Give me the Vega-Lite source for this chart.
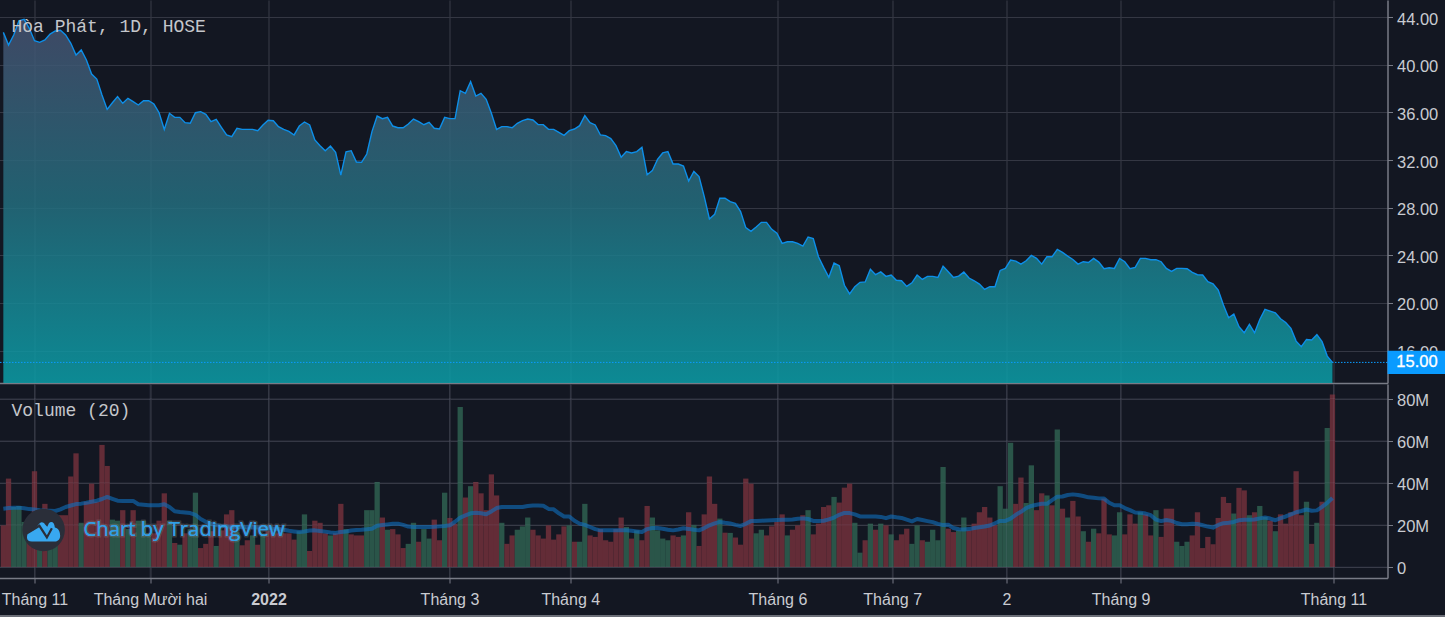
{"$schema":"https://vega.github.io/schema/vega-lite/v6.json","background":"#131722","padding":{"left":-1.5,"top":0,"right":0,"bottom":0},"autosize":{"type":"pad"},"spacing":0,
"config":{"view":{"stroke":null},"axis":{"labelFont":"Liberation Sans","labelFontSize":16.5,"labelColor":"#c9cbd1","gridColor":"#343743","gridWidth":1.2,"domainColor":"#787b86","domainWidth":1.5,"tickColor":"#787b86","tickSize":5,"title":null}},
"datasets":{"one":[{}],"levels":[{"level":0},{"level":20},{"level":40},{"level":60},{"level":80}],"months":[{"at":6},{"at":28.25},{"at":51.07},{"at":85.93},{"at":109.2},{"at":149.1},{"at":171.2},{"at":193.2},{"at":215.2},{"at":256.2}],"hpg":[
{"i":0,"close":42.73,"volume":19.8,"side":"r","ma":27.7},{"i":1,"close":41.67,"volume":42,"side":"r","ma":28},{"i":2,"close":42.51,"volume":28.5,"side":"g","ma":28.2},{"i":3,"close":43.71,"volume":29,"side":"g","ma":28.2},{"i":4,"close":43.83,"volume":21.4,"side":"g","ma":27.9},{"i":5,"close":43.07,"volume":22,"side":"r","ma":27.5},{"i":6,"close":42.03,"volume":45.5,"side":"r","ma":27.3},{"i":7,"close":41.89,"volume":14,"side":"g","ma":27},{"i":8,"close":42.09,"volume":30,"side":"r","ma":26.8},{"i":9,"close":42.59,"volume":16,"side":"g","ma":26.7},
{"i":10,"close":42.85,"volume":17,"side":"g","ma":26.6},{"i":11,"close":42.9,"volume":24.6,"side":"r","ma":27.4},{"i":12,"close":42.51,"volume":24.6,"side":"r","ma":28.5},{"i":13,"close":41.81,"volume":43,"side":"r","ma":29.2},{"i":14,"close":40.83,"volume":54,"side":"r","ma":29.9},{"i":15,"close":41.25,"volume":21,"side":"g","ma":30.1},{"i":16,"close":40.41,"volume":31,"side":"r","ma":30.5},{"i":17,"close":39.23,"volume":39.6,"side":"r","ma":31},{"i":18,"close":38.81,"volume":31,"side":"r","ma":31.5},{"i":19,"close":37.47,"volume":58,"side":"r","ma":32.3},
{"i":20,"close":36.26,"volume":48,"side":"r","ma":33.3},{"i":21,"close":36.82,"volume":22.5,"side":"g","ma":32.4},{"i":22,"close":37.33,"volume":22,"side":"g","ma":31.5},{"i":23,"close":36.77,"volume":27,"side":"r","ma":31.4},{"i":24,"close":37.19,"volume":18,"side":"g","ma":31.4},{"i":25,"close":36.91,"volume":27,"side":"r","ma":31.4},{"i":26,"close":36.63,"volume":22,"side":"g","ma":29.8},{"i":27,"close":36.99,"volume":22,"side":"g","ma":29.6},{"i":28,"close":36.99,"volume":16,"side":"g","ma":29.3},{"i":29,"close":36.71,"volume":16,"side":"r","ma":29.3},
{"i":30,"close":35.98,"volume":22,"side":"r","ma":29.3},{"i":31,"close":34.58,"volume":35,"side":"r","ma":29.8},{"i":32,"close":35.93,"volume":22,"side":"g","ma":28.5},{"i":33,"close":35.59,"volume":11.4,"side":"r","ma":26.5},{"i":34,"close":35.59,"volume":10.6,"side":"g","ma":26.1},{"i":35,"close":35.14,"volume":16,"side":"r","ma":25.9},{"i":36,"close":35.09,"volume":18,"side":"g","ma":25.6},{"i":37,"close":35.98,"volume":35.3,"side":"g","ma":24.8},{"i":38,"close":36.07,"volume":9,"side":"r","ma":22.8},{"i":39,"close":35.84,"volume":11,"side":"r","ma":21.5},
{"i":40,"close":35.23,"volume":17,"side":"r","ma":20.4},{"i":41,"close":35.42,"volume":10,"side":"g","ma":19.9},{"i":42,"close":34.75,"volume":17.4,"side":"r","ma":19.5},{"i":43,"close":34.11,"volume":25,"side":"r","ma":19.3},{"i":44,"close":33.97,"volume":27,"side":"r","ma":19},{"i":45,"close":34.67,"volume":16.6,"side":"g","ma":19},{"i":46,"close":34.58,"volume":10.3,"side":"r","ma":18.9},{"i":47,"close":34.58,"volume":12.7,"side":"r","ma":18.9},{"i":48,"close":34.58,"volume":15,"side":"g","ma":18.8},{"i":49,"close":34.47,"volume":10.6,"side":"r","ma":18.8},
{"i":50,"close":34.95,"volume":15,"side":"g","ma":18.7},{"i":51,"close":35.34,"volume":17,"side":"r","ma":18.7},{"i":52,"close":35.31,"volume":16,"side":"r","ma":18.3},{"i":53,"close":34.81,"volume":16,"side":"r","ma":18},{"i":54,"close":34.58,"volume":16,"side":"r","ma":17.7},{"i":55,"close":34.41,"volume":16,"side":"r","ma":17.2},{"i":56,"close":34.11,"volume":13,"side":"r","ma":16.9},{"i":57,"close":34.86,"volume":17,"side":"g","ma":16.6},{"i":58,"close":35.2,"volume":25,"side":"g","ma":16.9},{"i":59,"close":34.95,"volume":7.6,"side":"r","ma":17.3},
{"i":60,"close":33.69,"volume":22,"side":"r","ma":17.4},{"i":61,"close":33.21,"volume":21,"side":"r","ma":17.1},{"i":62,"close":32.79,"volume":16,"side":"r","ma":16.8},{"i":63,"close":33.18,"volume":15,"side":"g","ma":16.4},{"i":64,"close":32.65,"volume":16,"side":"r","ma":16.2},{"i":65,"close":30.74,"volume":30,"side":"r","ma":16.6},{"i":66,"close":32.7,"volume":18,"side":"g","ma":16.9},{"i":67,"close":32.79,"volume":15.5,"side":"r","ma":17.3},{"i":68,"close":31.84,"volume":15,"side":"r","ma":17.6},{"i":69,"close":31.81,"volume":15,"side":"r","ma":17.7},
{"i":70,"close":32.51,"volume":27,"side":"g","ma":17.9},{"i":71,"close":34.39,"volume":27,"side":"g","ma":18.2},{"i":72,"close":35.7,"volume":40.4,"side":"g","ma":19.6},{"i":73,"close":35.48,"volume":23.5,"side":"r","ma":19.9},{"i":74,"close":35.59,"volume":17.7,"side":"g","ma":20.2},{"i":75,"close":34.86,"volume":18,"side":"r","ma":20.5},{"i":76,"close":34.72,"volume":15.5,"side":"r","ma":20.6},{"i":77,"close":34.72,"volume":9,"side":"r","ma":20},{"i":78,"close":35.03,"volume":11,"side":"g","ma":19.2},{"i":79,"close":35.45,"volume":21,"side":"g","ma":19},
{"i":80,"close":35.23,"volume":12,"side":"r","ma":19},{"i":81,"close":34.97,"volume":18,"side":"g","ma":19},{"i":82,"close":35.17,"volume":13.5,"side":"g","ma":19},{"i":83,"close":34.67,"volume":22.5,"side":"r","ma":19.1},{"i":84,"close":34.61,"volume":12.7,"side":"r","ma":19.3},{"i":85,"close":35.59,"volume":35.3,"side":"g","ma":19.5},{"i":86,"close":35.48,"volume":23.3,"side":"r","ma":19.8},{"i":87,"close":35.48,"volume":20.6,"side":"r","ma":21.5},{"i":88,"close":37.83,"volume":76,"side":"g","ma":23.5},{"i":89,"close":37.61,"volume":33,"side":"r","ma":24.5},
{"i":90,"close":38.59,"volume":38.4,"side":"g","ma":25.5},{"i":91,"close":37.38,"volume":40.4,"side":"r","ma":25.8},{"i":92,"close":37.61,"volume":35,"side":"r","ma":25.5},{"i":93,"close":37.11,"volume":27,"side":"r","ma":25.1},{"i":94,"close":35.93,"volume":44,"side":"r","ma":26.4},{"i":95,"close":34.58,"volume":34,"side":"r","ma":28},{"i":96,"close":34.81,"volume":21,"side":"g","ma":28.5},{"i":97,"close":34.81,"volume":11,"side":"r","ma":28.5},{"i":98,"close":34.72,"volume":15,"side":"r","ma":28.5},{"i":99,"close":35.09,"volume":17.7,"side":"g","ma":28.5},
{"i":100,"close":35.31,"volume":19.3,"side":"g","ma":28.5},{"i":101,"close":35.45,"volume":23.5,"side":"g","ma":29},{"i":102,"close":35.37,"volume":17.7,"side":"r","ma":29.2},{"i":103,"close":34.98,"volume":15,"side":"r","ma":29.2},{"i":104,"close":34.98,"volume":13.5,"side":"r","ma":29.1},{"i":105,"close":34.58,"volume":19.8,"side":"r","ma":27.6},{"i":106,"close":34.58,"volume":13,"side":"r","ma":27.4},{"i":107,"close":34.33,"volume":15.5,"side":"r","ma":25.5},{"i":108,"close":34.08,"volume":19.3,"side":"r","ma":24},{"i":109,"close":34.47,"volume":19.8,"side":"g","ma":24},
{"i":110,"close":34.61,"volume":12,"side":"r","ma":22},{"i":111,"close":34.89,"volume":12,"side":"g","ma":20.6},{"i":112,"close":35.73,"volume":30,"side":"g","ma":20},{"i":113,"close":35.14,"volume":15,"side":"r","ma":19},{"i":114,"close":34.95,"volume":14.3,"side":"r","ma":18},{"i":115,"close":34.11,"volume":18,"side":"r","ma":17.4},{"i":116,"close":34.05,"volume":12.7,"side":"r","ma":17.4},{"i":117,"close":33.8,"volume":12,"side":"r","ma":17.4},{"i":118,"close":33.21,"volume":18,"side":"r","ma":17.4},{"i":119,"close":32.23,"volume":23.5,"side":"r","ma":17.4},
{"i":120,"close":32.71,"volume":19,"side":"g","ma":17.4},{"i":121,"close":32.6,"volume":13.5,"side":"r","ma":17.2},{"i":122,"close":32.71,"volume":17.4,"side":"g","ma":16.9},{"i":123,"close":33.07,"volume":12.7,"side":"r","ma":16.6},{"i":124,"close":30.77,"volume":29,"side":"r","ma":18},{"i":125,"close":31.11,"volume":23.5,"side":"g","ma":18.5},{"i":126,"close":32.06,"volume":17.4,"side":"g","ma":18.5},{"i":127,"close":32.6,"volume":13.5,"side":"g","ma":18.2},{"i":128,"close":32.71,"volume":12.7,"side":"g","ma":17.7},{"i":129,"close":31.67,"volume":15,"side":"r","ma":17.4},
{"i":130,"close":31.67,"volume":14.3,"side":"r","ma":17.8},{"i":131,"close":31.5,"volume":15,"side":"g","ma":18.4},{"i":132,"close":30.24,"volume":26,"side":"r","ma":18.1},{"i":133,"close":31.05,"volume":20,"side":"g","ma":17.7},{"i":134,"close":30.61,"volume":10,"side":"r","ma":17.4},{"i":135,"close":28.93,"volume":25,"side":"r","ma":18.5},{"i":136,"close":27.05,"volume":43,"side":"r","ma":19.8},{"i":137,"close":27.44,"volume":30,"side":"r","ma":20.7},{"i":138,"close":28.79,"volume":23,"side":"g","ma":21.4},{"i":139,"close":28.79,"volume":16.3,"side":"r","ma":21},
{"i":140,"close":28.51,"volume":16.2,"side":"g","ma":20.7},{"i":141,"close":28.37,"volume":14,"side":"r","ma":20},{"i":142,"close":27.67,"volume":10.6,"side":"r","ma":19.5},{"i":143,"close":26.32,"volume":42,"side":"r","ma":20.5},{"i":144,"close":26.01,"volume":39.6,"side":"r","ma":21.8},{"i":145,"close":26.38,"volume":16,"side":"g","ma":21.9},{"i":146,"close":26.77,"volume":17.7,"side":"g","ma":22},{"i":147,"close":26.77,"volume":15,"side":"r","ma":22.1},{"i":148,"close":26.18,"volume":19.3,"side":"r","ma":22.2},{"i":149,"close":25.85,"volume":21.4,"side":"r","ma":22.3},
{"i":150,"close":25,"volume":25,"side":"r","ma":22.4},{"i":151,"close":25.14,"volume":15,"side":"g","ma":22.5},{"i":152,"close":25.14,"volume":17.7,"side":"r","ma":22.6},{"i":153,"close":25,"volume":19.8,"side":"r","ma":22.9},{"i":154,"close":24.78,"volume":24.6,"side":"r","ma":23.1},{"i":155,"close":25.54,"volume":27,"side":"g","ma":22.8},{"i":156,"close":25.4,"volume":15.5,"side":"r","ma":21.9},{"i":157,"close":23.88,"volume":20.6,"side":"r","ma":21.9},{"i":158,"close":22.99,"volume":28.5,"side":"r","ma":22},{"i":159,"close":22.15,"volume":29.3,"side":"r","ma":22.6},
{"i":160,"close":23.35,"volume":33.3,"side":"g","ma":23.5},{"i":161,"close":23.13,"volume":30.6,"side":"r","ma":24.8},{"i":162,"close":21.48,"volume":37.7,"side":"r","ma":25.7},{"i":163,"close":20.75,"volume":39.6,"side":"r","ma":25.6},{"i":164,"close":21.36,"volume":21,"side":"g","ma":25},{"i":165,"close":21.73,"volume":6.8,"side":"g","ma":24},{"i":166,"close":21.76,"volume":12.7,"side":"r","ma":24},{"i":167,"close":22.82,"volume":20.6,"side":"g","ma":24},{"i":168,"close":22.37,"volume":17.7,"side":"r","ma":24},{"i":169,"close":22.6,"volume":20.6,"side":"g","ma":23.8},
{"i":170,"close":22.23,"volume":19.8,"side":"r","ma":23.2},{"i":171,"close":22.34,"volume":15.5,"side":"g","ma":24},{"i":172,"close":21.9,"volume":12.7,"side":"r","ma":23.6},{"i":173,"close":21.86,"volume":15.5,"side":"r","ma":23.3},{"i":174,"close":21.39,"volume":18.2,"side":"r","ma":22.5},{"i":175,"close":21.69,"volume":11,"side":"g","ma":21.7},{"i":176,"close":22.34,"volume":19.8,"side":"g","ma":22.8},{"i":177,"close":21.97,"volume":12.7,"side":"r","ma":22.3},{"i":178,"close":22.23,"volume":12,"side":"g","ma":21.8},{"i":179,"close":22.23,"volume":17.7,"side":"g","ma":21.3},
{"i":180,"close":22.14,"volume":12.7,"side":"g","ma":20.5},{"i":181,"close":23.09,"volume":47.5,"side":"g","ma":19.9},{"i":182,"close":22.62,"volume":18.2,"side":"r","ma":20.1},{"i":183,"close":22.14,"volume":16.6,"side":"r","ma":18.5},{"i":184,"close":22.25,"volume":17.4,"side":"g","ma":17.9},{"i":185,"close":22.59,"volume":23.5,"side":"g","ma":17.8},{"i":186,"close":22.09,"volume":17.4,"side":"r","ma":18},{"i":187,"close":21.86,"volume":20.6,"side":"r","ma":18.5},{"i":188,"close":21.58,"volume":26,"side":"r","ma":18.9},{"i":189,"close":21.13,"volume":28.5,"side":"r","ma":19.2},
{"i":190,"close":21.36,"volume":23.5,"side":"r","ma":19.7},{"i":191,"close":21.36,"volume":20,"side":"r","ma":20.8},{"i":192,"close":22.73,"volume":38.4,"side":"g","ma":21.9},{"i":193,"close":22.9,"volume":27.7,"side":"g","ma":21.9},{"i":194,"close":23.6,"volume":59,"side":"g","ma":23},{"i":195,"close":23.51,"volume":30,"side":"r","ma":24.8},{"i":196,"close":23.26,"volume":42.5,"side":"r","ma":26.2},{"i":197,"close":23.54,"volume":30.4,"side":"g","ma":28},{"i":198,"close":23.99,"volume":48.3,"side":"g","ma":29},{"i":199,"close":23.74,"volume":27,"side":"r","ma":29.6},
{"i":200,"close":23.26,"volume":35,"side":"r","ma":30},{"i":201,"close":23.88,"volume":34,"side":"g","ma":30},{"i":202,"close":23.88,"volume":29.3,"side":"r","ma":31.8},{"i":203,"close":24.49,"volume":65.3,"side":"g","ma":33.4},{"i":204,"close":24.24,"volume":27.7,"side":"r","ma":33.5},{"i":205,"close":23.93,"volume":23.5,"side":"g","ma":34.2},{"i":206,"close":23.65,"volume":31.4,"side":"r","ma":34.5},{"i":207,"close":23.26,"volume":24,"side":"r","ma":34.2},{"i":208,"close":23.46,"volume":17,"side":"g","ma":33.7},{"i":209,"close":23.4,"volume":12,"side":"r","ma":33.1},
{"i":210,"close":23.74,"volume":18.2,"side":"g","ma":32.9},{"i":211,"close":23.43,"volume":16,"side":"r","ma":32.6},{"i":212,"close":22.87,"volume":32.5,"side":"r","ma":32.5},{"i":213,"close":22.95,"volume":15.5,"side":"r","ma":30.5},{"i":214,"close":22.9,"volume":15,"side":"g","ma":29.3},{"i":215,"close":23.74,"volume":26,"side":"g","ma":29.3},{"i":216,"close":23.46,"volume":15.5,"side":"r","ma":28},{"i":217,"close":22.87,"volume":25,"side":"r","ma":27},{"i":218,"close":22.98,"volume":20.6,"side":"r","ma":25.9},{"i":219,"close":23.74,"volume":26,"side":"g","ma":25.8},
{"i":220,"close":23.74,"volume":25,"side":"r","ma":25.4},{"i":221,"close":23.63,"volume":15,"side":"r","ma":24.6},{"i":222,"close":23.63,"volume":27,"side":"g","ma":22.5},{"i":223,"close":23.46,"volume":14.3,"side":"r","ma":21.8},{"i":224,"close":22.9,"volume":27.7,"side":"r","ma":22.3},{"i":225,"close":22.65,"volume":27.7,"side":"r","ma":21.9},{"i":226,"close":22.9,"volume":12,"side":"g","ma":20.9},{"i":227,"close":22.9,"volume":10,"side":"g","ma":20.3},{"i":228,"close":22.87,"volume":12,"side":"g","ma":20.3},{"i":229,"close":22.56,"volume":15,"side":"r","ma":20.5},
{"i":230,"close":22.37,"volume":26,"side":"r","ma":20.4},{"i":231,"close":22.34,"volume":9,"side":"r","ma":19.8},{"i":232,"close":21.78,"volume":14.3,"side":"r","ma":19.2},{"i":233,"close":21.61,"volume":10.8,"side":"r","ma":18.7},{"i":234,"close":21.08,"volume":23.3,"side":"r","ma":20},{"i":235,"close":19.82,"volume":33.3,"side":"r","ma":20.8},{"i":236,"close":18.75,"volume":30.4,"side":"r","ma":21},{"i":237,"close":19.06,"volume":25.4,"side":"g","ma":21.4},{"i":238,"close":18,"volume":37.6,"side":"r","ma":22.2},{"i":239,"close":17.49,"volume":36.4,"side":"r","ma":22.4},
{"i":240,"close":18.19,"volume":24.6,"side":"g","ma":22.4},{"i":241,"close":17.49,"volume":26,"side":"r","ma":22.6},{"i":242,"close":18.61,"volume":29,"side":"g","ma":23.1},{"i":243,"close":19.45,"volume":23.8,"side":"g","ma":23.5},{"i":244,"close":19.31,"volume":22,"side":"r","ma":23},{"i":245,"close":19.17,"volume":17,"side":"g","ma":22.2},{"i":246,"close":18.67,"volume":25,"side":"r","ma":23.2},{"i":247,"close":18.36,"volume":20.6,"side":"r","ma":24},{"i":248,"close":17.86,"volume":26,"side":"r","ma":25},{"i":249,"close":16.79,"volume":45.5,"side":"r","ma":26},
{"i":250,"close":16.32,"volume":24.6,"side":"r","ma":26.6},{"i":251,"close":16.93,"volume":31,"side":"g","ma":27.3},{"i":252,"close":16.88,"volume":11,"side":"r","ma":26.7},{"i":253,"close":17.33,"volume":21,"side":"g","ma":26.9},{"i":254,"close":16.74,"volume":31,"side":"r","ma":28.6},{"i":255,"close":15.53,"volume":66,"side":"g","ma":30.5},{"i":256,"close":15,"volume":82,"side":"r","ma":32.8}
]},
"vconcat":[
{"width":1388,"height":383,
"layer":[
{"data":{"name":"hpg"},"mark":{"type":"area","interpolate":"linear","color":{"gradient":"linear","x1":0,"y1":0,"x2":0,"y2":1,"stops":[{"offset":0,"color":"rgba(70,81,112,0.85)"},{"offset":0.5,"color":"rgba(36,109,126,0.85)"},{"offset":1,"color":"rgba(11,158,168,0.85)"}]}},
"encoding":{
"x":{"field":"i","type":"quantitative","scale":{"domain":[-0.74,266.6],"nice":false,"zero":false,"padding":0},"axis":{"values":[6,28.25,51.07,85.93,109.2,149.1,171.2,193.2,215.2,256.2],"labels":false,"ticks":false,"domain":true,"grid":true,"maxExtent":0,"minExtent":0}},
"y":{"field":"close","type":"quantitative","scale":{"domain":[13.27,45.45],"nice":false,"zero":false},"axis":{"orient":"right","values":[16,20,24,28,32,36,40,44],"format":".2f","minExtent":57,"maxExtent":57,"labelPadding":4,"labelOffset":2,"grid":true}},
"y2":{"datum":13.27}}},
{"data":{"name":"hpg"},"mark":{"type":"line","color":"#0d8fe9","strokeWidth":1.4,"interpolate":"linear"},"encoding":{"x":{"field":"i","type":"quantitative"},"y":{"field":"close","type":"quantitative"}}},
{"data":{"name":"one"},"mark":{"type":"rule","color":"#0a9bff","strokeWidth":1,"strokeDash":[1.5,1.5]},"encoding":{"y":{"datum":15}}},
{"data":{"name":"one"},"mark":{"type":"rect","color":"#0a9bff"},"encoding":{"x":{"datum":266.6},"x2":{"datum":277.9},"y":{"datum":14.03},"y2":{"datum":15.97}}},
{"data":{"name":"one"},"mark":{"type":"text","text":"15.00","color":"#ffffff","stroke":"#ffffff","strokeWidth":0.3,"font":"Liberation Sans","fontSize":16.5,"align":"left","baseline":"middle"},"encoding":{"x":{"datum":268.3},"y":{"datum":15}}},
{"data":{"name":"one"},"mark":{"type":"text","text":"Hòa Phát, 1D, HOSE","color":"#c4c6cb","font":"Liberation Mono","fontSize":18,"align":"left","baseline":"middle"},"encoding":{"x":{"datum":1.57},"y":{"datum":43.18}}}
]},
{"width":1388,"height":194,
"layer":[
{"data":{"name":"hpg"},"mark":{"type":"bar","size":5.3},
"encoding":{
"x":{"field":"i","type":"quantitative","scale":{"domain":[-0.74,266.6],"nice":false,"zero":false,"padding":0},"axis":{"values":[6,28.25,51.07,85.93,109.2,149.1,171.2,193.2,215.2,256.2],"grid":true,"labelExpr":"{'6':'Tháng 11','28.25':'Tháng Mười hai','51.07':'2022','85.93':'Tháng 3','109.2':'Tháng 4','149.1':'Tháng 6','171.2':'Tháng 7','193.2':'2','215.2':'Tháng 9','256.2':'Tháng 11'}[datum.value]","labelFontSize":16,"labelFontWeight":{"expr":"datum.value == 51.07 ? 'bold' : 'normal'"},"labelOverlap":false,"labelBound":false,"labelFlush":false,"labelPadding":8}},
"y":{"field":"volume","type":"quantitative","scale":{"domain":[-5.23,86.94],"nice":false,"zero":false},"axis":{"orient":"right","values":[0,20,40,60,80],"labelExpr":"datum.value == 0 ? '0' : datum.value + 'M'","minExtent":57,"maxExtent":57,"labelPadding":4,"labelOffset":2,"grid":true}},
"color":{"field":"side","type":"nominal","scale":{"domain":["r","g"],"range":["#632c37","#2a5549"]},"legend":null}}},
{"data":{"name":"levels"},"mark":{"type":"rule","color":"#9aa0b4","opacity":0.12,"strokeWidth":1},"encoding":{"y":{"field":"level","type":"quantitative"}}},
{"data":{"name":"months"},"mark":{"type":"rule","color":"#9aa0b4","opacity":0.12,"strokeWidth":1},"encoding":{"x":{"field":"at","type":"quantitative"}}},
{"data":{"name":"hpg"},"mark":{"type":"line","color":"#0f6fc0","opacity":0.6,"strokeWidth":4,"strokeJoin":"round"},"encoding":{"x":{"field":"i","type":"quantitative"},"y":{"field":"ma","type":"quantitative"}}},
{"data":{"name":"one"},"mark":{"type":"text","text":"Volume (20)","color":"#c4c6cb","font":"Liberation Mono","fontSize":18,"align":"left","baseline":"middle"},"encoding":{"x":{"datum":1.57},"y":{"datum":74.1}}},
{"data":{"name":"one"},"mark":{"type":"point","filled":true,"shape":"circle","size":1810,"color":"#2a2e39","opacity":1},"encoding":{"x":{"datum":7.75},"y":{"datum":17.6}}},
{"data":{"name":"one"},"mark":{"type":"point","filled":true,"size":1100,"color":"#38a8f0","opacity":1,"shape":"M-1,.45 C-1,.15 -.8,.05 -.6,.02 L-.22,-.42 C-.1,-.5 0,-.45 .08,-.35 L.22,-.2 L.32,-.4 C.45,-.55 .65,-.5 .68,-.15 C.95,-.1 1,.2 1,.35 C1,.6 .8,.7 .7,.7 L-.7,.7 C-.9,.7 -1,.6 -1,.45 Z"},"encoding":{"x":{"datum":7.75},"y":{"datum":17.6}}},
{"data":{"name":"one"},"mark":{"type":"point","filled":false,"size":1100,"stroke":"#2a2e39","strokeWidth":2.2,"opacity":1,"shape":"M-1,.2 L-.25,-.25 L.2,.45 L.5,-.1"},"encoding":{"x":{"datum":7.75},"y":{"datum":17.6}}},
{"data":{"name":"one"},"mark":{"type":"text","text":"Chart by TradingView","color":"#2f9fe8","stroke":"#8a8a8a","strokeWidth":3,"strokeOpacity":0.3,"font":"Open Sans","fontSize":20.3,"align":"left","baseline":"middle"},"encoding":{"x":{"datum":15.45},"y":{"datum":17.6}}},
{"data":{"name":"one"},"mark":{"type":"text","text":"Chart by TradingView","color":"#2f9fe8","font":"Open Sans","fontSize":20.3,"align":"left","baseline":"middle"},"encoding":{"x":{"datum":15.45},"y":{"datum":17.6}}},
{"data":{"name":"one"},"mark":{"type":"rule","color":"#6c6f78","strokeWidth":2},"encoding":{"x":{"datum":-0.74},"x2":{"datum":277.9},"y":{"datum":-23.3}}}
]}
]}
